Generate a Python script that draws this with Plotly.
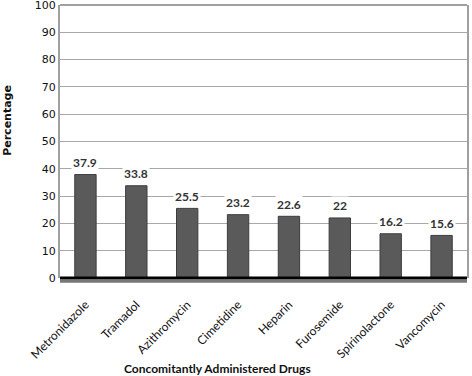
import plotly.graph_objects as go

drugs = ["Metronidazole", "Tramadol", "Azithromycin", "Cimetidine", "Heparin",
         "Furosemide", "Spirinolactone", "Vancomycin"]
percent = [37.9, 33.8, 25.5, 23.2, 22.6, 22, 16.2, 15.6]
labels = ["37.9", "33.8", "25.5", "23.2", "22.6", "22", "16.2", "15.6"]
yticks = [0, 10, 20, 30, 40, 50, 60, 70, 80, 90, 100]

fig = go.Figure()
fig.add_trace(go.Bar(
    x=drugs, y=percent,
    marker=dict(color="#5a5a5a", line=dict(color="#3c3c3c", width=1)),
    width=0.42,
    showlegend=False,
))

for d, v, t in zip(drugs, percent, labels):
    fig.add_annotation(x=d, y=v, text="<b>" + t + "</b>", showarrow=False,
                       yshift=12, bgcolor="white",
                       font=dict(family="Lato, Open Sans, sans-serif", size=12, color="#333"))

fig.update_layout(
    width=472, height=376,
    margin=dict(l=60, r=5, t=5, b=98),
    plot_bgcolor="white", paper_bgcolor="white",
    xaxis=dict(showline=False, ticks="outside", ticklen=14, tickcolor="rgba(0,0,0,0)",
               tickangle=-45, automargin=False,
               tickfont=dict(family="Lato, Open Sans, sans-serif", size=12, color="#111")),
    yaxis=dict(range=[0, 100.01], tickvals=yticks, showgrid=True, automargin=False,
               ticklabeloverflow="allow",
               gridcolor="#a8a8a8", gridwidth=1,
               showline=True, linecolor="#a0a0a0", linewidth=2, mirror=True,
               ticks="", ticklen=0,
               tickfont=dict(family="DejaVu Sans, Verdana, sans-serif", size=11, color="#111"),
               zeroline=False),
)
fig.add_annotation(xref="paper", yref="paper", x=0.386, y=-0.33, yanchor="middle",
                   text="<b>Concomitantly Administered Drugs</b>", showarrow=False,
                   font=dict(family="Lato, Open Sans, sans-serif", size=12, color="#111"))
fig.add_annotation(xref="paper", yref="paper", x=-0.128, y=0.579, textangle=-90,
                   xanchor="center", yanchor="middle",
                   text="<b>Percentage</b>", showarrow=False,
                   font=dict(family="DejaVu Sans, Verdana, sans-serif", size=11, color="#111"))
fig.add_shape(type="line", xref="paper", yref="paper", x0=0, x1=1, y0=1, y1=1,
              line=dict(color="#a0a0a0", width=2))
fig.add_shape(type="line", xref="paper", yref="paper", x0=0, x1=1, y0=-0.012, y1=-0.012,
              line=dict(color="#777", width=3))
fig.add_shape(type="line", xref="paper", yref="paper", x0=0, x1=1, y0=0, y1=0,
              line=dict(color="#000", width=3))

fig.write_html("out.html", config={"displayModeBar": False},
               post_script="document.body.style.margin='0';document.body.style.overflow='hidden';")
